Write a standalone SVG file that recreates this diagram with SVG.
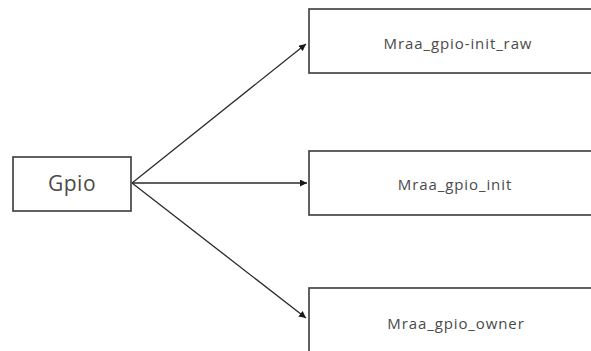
<svg xmlns="http://www.w3.org/2000/svg" width="591" height="351" viewBox="0 0 591 351">
  <style>
    .box { fill: #ffffff; stroke: #3a3a3a; stroke-width: 1.6; }
    .edge { fill: none; stroke: #2a2a2a; stroke-width: 1.3; }
    .lbl { font-family: "Open Sans", "Liberation Sans", sans-serif; fill: #4a4a4a; text-anchor: middle; }
    .small { font-size: 15px; letter-spacing: 0.9px; }
  </style>
  <defs>
    <marker id="arrow" viewBox="0 0 10 10" refX="10" refY="5" markerWidth="7" markerHeight="7" orient="auto" markerUnits="userSpaceOnUse">
      <path d="M0,0 L10,5 L0,10 z" fill="#1a1a1a"/>
    </marker>
  </defs>
  <rect width="591" height="351" fill="#ffffff"/>

  <g id="connectors">
    <line class="edge" x1="132" y1="183" x2="306" y2="44" marker-end="url(#arrow)"/>
    <line class="edge" x1="132" y1="183" x2="307" y2="183" marker-end="url(#arrow)"/>
    <line class="edge" x1="132" y1="183" x2="306" y2="318" marker-end="url(#arrow)"/>
  </g>

  <g id="gpio">
    <rect class="box" x="13" y="157" width="118" height="54"/>
    <text class="lbl" x="72" y="191" font-size="21" letter-spacing="0.5">Gpio</text>
  </g>

  <g id="init_raw">
    <rect class="box" x="309" y="9" width="300" height="64"/>
    <text class="lbl small" x="458" y="49">Mraa_gpio-init_raw</text>
  </g>

  <g id="init">
    <rect class="box" x="309" y="151" width="300" height="64"/>
    <text class="lbl small" x="455" y="190">Mraa_gpio_init</text>
  </g>

  <g id="owner">
    <rect class="box" x="309" y="288" width="300" height="80"/>
    <text class="lbl small" x="456" y="329">Mraa_gpio_owner</text>
  </g>
</svg>
